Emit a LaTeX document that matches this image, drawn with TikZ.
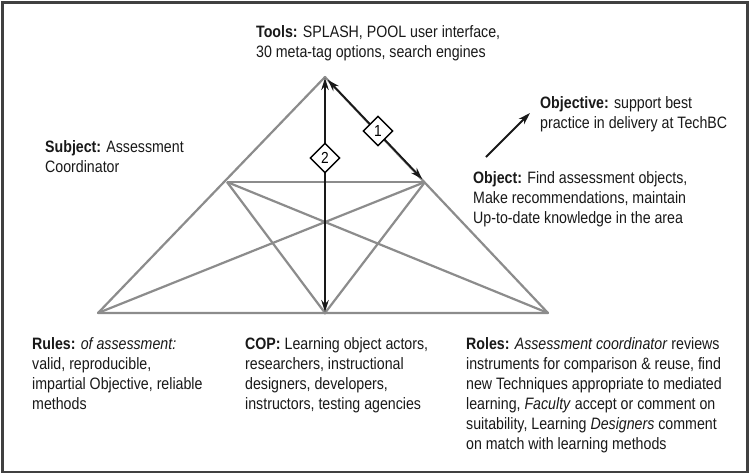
\documentclass[tikz,border=0pt]{standalone}
\usepackage{fontspec}
\setmainfont{Liberation Sans}[FakeStretch=0.86]
\usetikzlibrary{arrows.meta,shapes.geometric}
\tikzset{
  tri/.style={draw=black!45, line width=2.2pt},
  blk/.style={draw=black!90, line width=1.8pt, {Stealth[length=12pt,width=7.5pt]}-{Stealth[length=12pt,width=7.5pt]}},
  dia/.style={diamond, draw=black, fill=white, line width=1.4pt, inner sep=0pt, minimum width=30pt, minimum height=30pt, font=\fontsize{16}{16}\selectfont},
  txt/.style={anchor=north west, inner sep=0pt, align=left, text=black!90, font=\fontsize{16.5}{20}\selectfont},
}
\newcommand{\fl}{\rule{0pt}{13pt}}
\begin{document}
\begin{tikzpicture}[x=1pt,y=-1pt]
\useasboundingbox (0,0) rectangle (750,475);
\fill[white] (0,0) rectangle (750,475);
\draw[black!75, line width=2.5pt] (2.5,2.5) rectangle (747.5,472);
% triangle coordinates
\coordinate (A) at (325,77);
\coordinate (BL) at (98,313);
\coordinate (BR) at (548,313);
\coordinate (BM) at (325,313);
\coordinate (ML) at (227,182);
\coordinate (MR) at (425,182);
\draw[tri, line join=round] (A) -- (BL) -- (BR) -- cycle;
\draw[tri] (ML) -- (MR);
\draw[tri] (ML) -- (BM) -- (MR);
\draw[tri] (ML) -- (BR);
\draw[tri] (MR) -- (BL);
% arrows
\draw[blk, shorten <=1pt, shorten >=1pt] (A) -- (BM);
\draw[blk, shorten <=4pt, shorten >=4pt] (A) -- (MR);
\node[dia] (d2) at (325,158) {2};
\node[dia] (d1) at (378,131) {1};
\coordinate (o1) at (486,157);
\coordinate (o2) at (530,113);
\draw[draw=black!90, line width=1.8pt, -{Stealth[length=12pt,width=7.5pt]}] (o1) -- (o2);
% texts
\node[txt] (tools) at (256,24) {\fl\textbf{Tools:} SPLASH, POOL user interface,\\30 meta-tag options, search engines};
\node[txt] (subj) at (45,139) {\fl\textbf{Subject:} Assessment\\Coordinator};
\node[txt] (objv) at (540,95) {\fl\textbf{Objective:} support best\\practice in delivery at TechBC};
\node[txt] (objt) at (473,170) {\fl\textbf{Object:} Find assessment objects,\\Make recommendations, maintain\\Up-to-date knowledge in the area};
\node[txt] (rules) at (32,336) {\fl\textbf{Rules:} \textit{of assessment:}\\valid, reproducible,\\impartial Objective, reliable\\methods};
\node[txt] (cop) at (245,336) {\fl\textbf{COP:} Learning object actors,\\researchers, instructional\\designers, developers,\\instructors, testing agencies};
\node[txt] (roles) at (466,336) {\fl\textbf{Roles:} \textit{Assessment coordinator} reviews\\instruments for comparison \& reuse, find\\new Techniques appropriate to mediated\\learning, \textit{Faculty} accept or comment on\\suitability, Learning \textit{Designers} comment\\on match with learning methods};
\end{tikzpicture}
\end{document}
